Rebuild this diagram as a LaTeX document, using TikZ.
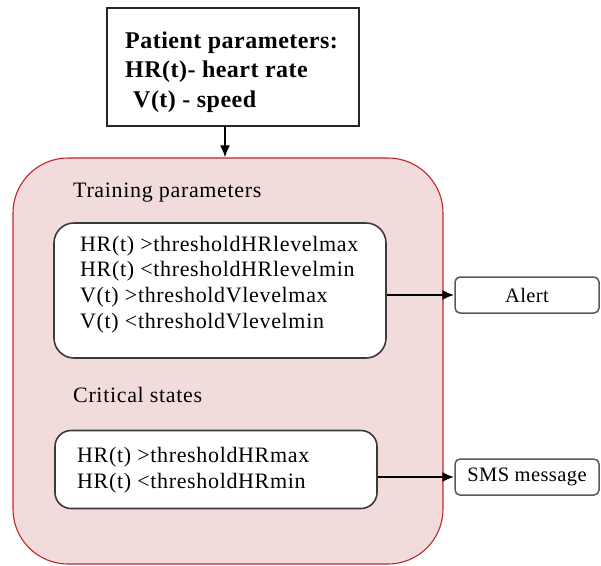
\documentclass[tikz,border=0pt]{standalone}
\usepackage{fontspec}
\setmainfont{Liberation Serif}
\usetikzlibrary{arrows.meta}
\definecolor{panelfill}{HTML}{F2DCDB}
\definecolor{paneledge}{HTML}{C0262B}
\definecolor{boxedge}{HTML}{3A3A3A}
\tikzset{
  px/.style={x=1pt,y=-1pt},
  panel/.style={draw=paneledge,fill=panelfill,line width=1.1pt,rounded corners=55pt,inner sep=0pt},
  sourcebox/.style={draw=black!85,fill=white,line width=2pt,inner sep=0pt},
  condbox/.style={draw=boxedge,fill=white,line width=1.6pt,rounded corners=20pt,inner sep=0pt},
  outbox/.style={draw=black!65,fill=white,line width=1.5pt,rounded corners=5pt,inner sep=0pt,
    font=\fontsize{20.5}{24}\selectfont\addfontfeature{LetterSpace=2}},
  plaintext/.style={inner sep=0pt,align=left,
    font=\fontsize{22}{25.7}\selectfont\addfontfeature{LetterSpace=3}},
  flow/.style={line width=2pt,-{Latex[length=12pt,width=10pt]}}
}
\begin{document}
\begin{tikzpicture}[px]
  \useasboundingbox (0,0) rectangle (601,565);

  % patient input box
  \node[sourcebox,minimum width=252pt,minimum height=118pt] (patient) at (233,67) {};
  \node[inner sep=0pt,align=left,anchor=west,
    font=\bfseries\fontsize{24}{29.5}\selectfont\addfontfeature{LetterSpace=2}]
    (patienttxt) at (125,72) {Patient parameters:\\HR(t)- heart rate\\\hspace*{8pt}V(t) - speed};

  % monitoring panel
  \node[panel,minimum width=430pt,minimum height=406pt] (panel) at (228,361) {};
  \coordinate (feed) at (225,126);
  \draw[flow] (feed) -- (feed |- panel.north);

  \node[plaintext,anchor=west] (trainlbl) at (73,193) {Training parameters};
  \node[condbox,minimum width=332pt,minimum height=135pt] (train) at (220,290.5) {};
  \node[plaintext,anchor=west] (traintxt) at (80,284.5)
    {HR(t) >thresholdHRlevelmax\\HR(t) <thresholdHRlevelmin\\V(t) >thresholdVlevelmax\\V(t) <thresholdVlevelmin};

  \node[plaintext,anchor=west] (critlbl) at (73,395) {Critical states};
  \node[condbox,rounded corners=16pt,minimum width=322pt,minimum height=78pt] (crit) at (216,469.5) {};
  \node[plaintext,anchor=west] (crittxt) at (77,470)
    {HR(t) >thresholdHRmax\\HR(t) <thresholdHRmin};

  % outputs
  \node[outbox,minimum width=144pt,minimum height=36pt] (alert) at (527,295) {Alert};
  \node[outbox,minimum width=144pt,minimum height=36pt] (sms) at (527,477) {SMS message};

  \draw[flow] (train.east |- alert.west) -- (alert.west);
  \draw[flow] (crit.east |- sms.west) -- (sms.west);
\end{tikzpicture}
\end{document}
